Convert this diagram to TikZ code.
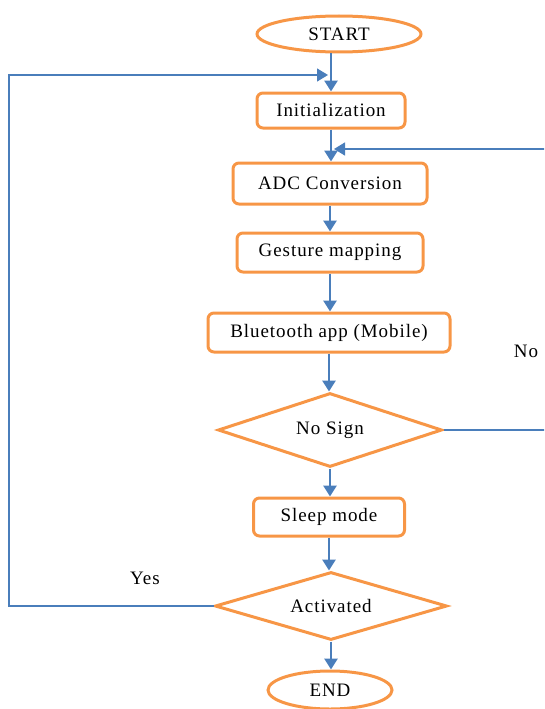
\documentclass[tikz,border=0pt]{standalone}
\usepackage{fontspec}
\setmainfont{Liberation Serif}[LetterSpace=5]
\usetikzlibrary{arrows.meta,shapes.geometric}
\definecolor{boxorange}{HTML}{F79646}
\definecolor{flowblue}{HTML}{4A7EBB}

\begin{document}
\begin{tikzpicture}[x=1pt,y=-1pt,>={Triangle[length=11pt,width=13pt]},
  font=\fontsize{19}{22}\selectfont,
  procbox/.style={draw=boxorange,line width=3pt,rounded corners=6pt,inner sep=0pt},
  termbox/.style={ellipse,draw=boxorange,line width=3pt,inner sep=0pt},
  decbox/.style={diamond,aspect=3,draw=boxorange,line width=3pt,inner sep=0pt},
  flow/.style={->,draw=flowblue,line width=2.8pt},
  back/.style={->,draw=flowblue,line width=1.3pt}]
\useasboundingbox (0,0) rectangle (544,709);
\clip (0,0) rectangle (544,709);
\node (start) [termbox,minimum width=164pt,minimum height=36pt] at (339,34) {START};
\node (init)  [procbox,minimum width=148pt,minimum height=35pt] at (331,110.5) {Initialization};
\node (adc)   [procbox,minimum width=194pt,minimum height=41pt] at (330,183.5) {ADC Conversion\hspace{10pt}};
\node (gest)  [procbox,minimum width=186pt,minimum height=39pt] at (330,252.5) {Gesture mapping};
\node (blue)  [procbox,minimum width=242pt,minimum height=39pt] at (329,332.5) {Bluetooth app (Mobile)};
\node (nosign) [decbox,minimum width=224pt,minimum height=74pt] at (330,430) {No Sign\hspace{26pt}};
\node (sleep) [procbox,minimum width=151pt,minimum height=38pt] at (329,517) {Sleep mode\hspace{10pt}};
\node (act)   [decbox,minimum width=232pt,minimum height=68pt] at (331,606) {Activated\hspace{17pt}};
\node (stop)  [termbox,minimum width=124pt,minimum height=38pt] at (330,690) {END};
\node (nolbl)  at (526,351) {No};
\node (yeslbl) at (145,578) {Yes};
% main flow
\draw[flow] (init.north |- start.south) -- (init.north);
\draw[flow] (init.south) -- (init.south |- adc.north);
\draw[flow] (adc.south -| gest.north) -- (gest.north);
\draw[flow] (gest.south) -- (gest.south |- blue.north);
\draw[flow] (blue.south) -- (blue.south |- nosign.north);
\draw[flow] (nosign.south) -- (nosign.south |- sleep.north);
\draw[flow] (sleep.south) -- (sleep.south |- act.north);
\draw[flow] (act.south) -- (act.south |- stop.north);
% loops
\coordinate (lefttop) at (9,75);
\coordinate (righttop) at (560,149);
\draw[back] (act.west) -| (lefttop) -- ([xshift=-3pt]lefttop -| init.north);
\draw[back] (nosign.east) -| (righttop) -- ([xshift=3pt]righttop -| init.south);
\end{tikzpicture}
\end{document}
